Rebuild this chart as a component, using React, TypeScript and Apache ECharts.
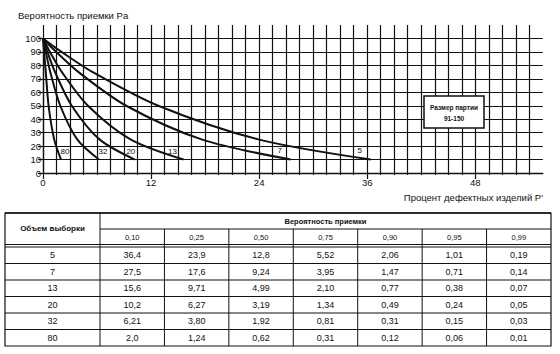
import React, { useEffect, useRef } from 'react';
import * as echarts from 'echarts';

const sampleSizes = ['5', '7', '13', '20', '32', '80'];
const acceptanceLevels = ['0,10', '0,25', '0,50', '0,75', '0,90', '0,95', '0,99'];
const row5 = ['36,4', '23,9', '12,8', '5,52', '2,06', '1,01', '0,19'];
const row7 = ['27,5', '17,6', '9,24', '3,95', '1,47', '0,71', '0,14'];
const row13 = ['15,6', '9,71', '4,99', '2,10', '0,77', '0,38', '0,07'];
const row20 = ['10,2', '6,27', '3,19', '1,34', '0,49', '0,24', '0,05'];
const row32 = ['6,21', '3,80', '1,92', '0,81', '0,31', '0,15', '0,03'];
const row80 = ['2,0', '1,24', '0,62', '0,31', '0,12', '0,06', '0,01'];
const defectRows = [row5, row7, row13, row20, row32, row80];
const zeroDefectPoint = [0, 100];
const xTickValues = [0, 12, 24, 36, 48];

const yTitle = 'Вероятность приемки Pa';
const xTitle = "Процент дефектных изделий P'";
const lotLabel = ['Размер партии', '91-150'];
const sampleHeader = 'Объем выборки';
const probHeader = 'Вероятность приемки';

// ---- style ----
const FONT = '"Liberation Sans", Arial, sans-serif';
const INK = '#111';
const labelOffsets: Record<string, number[]> = {
  '5': [-11, -9],
  '7': [-11, -9],
  '13': [-11, -8],
  '20': [-4, -8],
  '32': [4, -8],
  '80': [4, -8],
};

const num = (s: string) => parseFloat(s.replace(',', '.'));

function buildTable(): any[] {
  const x0 = 5, x1 = 551, y0 = 213, col1 = 100, hdrMid = 229, dbl1 = 244.5, dbl2 = 247, rowH = 16.5;
  const colW = (x1 - col1) / acceptanceLevels.length;
  const yEnd = dbl2 + rowH * defectRows.length;
  const line = (ax: number, ay: number, bx: number, by: number, w = 1) => ({
    type: 'line',
    shape: { x1: ax, y1: ay, x2: bx, y2: by },
    style: { stroke: INK, lineWidth: w },
  });
  const text = (t: string, x: number, y: number, size: number, weight: any = 'normal') => ({
    type: 'text',
    x, y,
    style: { text: t, fill: INK, font: `${weight} ${size}px ${FONT}`, align: 'center', verticalAlign: 'middle' },
  });
  const els: any[] = [];
  els.push({ type: 'rect', shape: { x: x0, y: y0, width: x1 - x0, height: yEnd - y0 }, style: { fill: 'none', stroke: INK, lineWidth: 1.2 } });
  els.push(line(x0, y0, x1, y0, 1.6));
  els.push(line(col1, y0, col1, yEnd));
  els.push(line(col1, hdrMid, x1, hdrMid));
  els.push(line(x0, dbl1, x1, dbl1));
  els.push(line(x0, dbl2, x1, dbl2));
  for (let k = 1; k < acceptanceLevels.length; k++) {
    const cx = col1 + k * colW;
    els.push(line(cx, hdrMid, cx, yEnd));
  }
  for (let r = 1; r < defectRows.length; r++) {
    const ry = dbl2 + r * rowH;
    els.push(line(x0, ry, x1, ry));
  }
  els.push(text(sampleHeader, (x0 + col1) / 2, (y0 + dbl1) / 2, 8, 'bold'));
  els.push(text(probHeader, (col1 + x1) / 2, (y0 + hdrMid) / 2 + 0.5, 7.5, 'bold'));
  acceptanceLevels.forEach((lvl, k) => {
    els.push(text(lvl, col1 + (k + 0.5) * colW, (hdrMid + dbl1) / 2 + 1, 7.5));
  });
  defectRows.forEach((row, r) => {
    const cy = dbl2 + (r + 0.5) * rowH;
    els.push(text(sampleSizes[r], (x0 + col1) / 2, cy, 9));
    row.forEach((v, k) => {
      els.push(text(v, col1 + (k + 0.5) * colW, cy, 9));
    });
  });
  return els;
}

export default function App() {
  const ref = useRef<HTMLDivElement>(null);
  useEffect(() => {
    if (!ref.current) return;
    const chart = echarts.init(ref.current, undefined, { renderer: 'svg' });

    const pxPerX = 9.006;
    const pxPerY = 1.345;
    const left = 43;
    const bottomY = 173;

    const series = sampleSizes.map((n, i) => {
      const row = defectRows[i];
      const pts = row.map((v, k) => [num(v), num(acceptanceLevels[k]) * 100]).reverse();
      const data = [zeroDefectPoint, ...pts];
      const end = pts[pts.length - 1];
      return {
        type: 'line',
        name: n,
        xAxisIndex: 0,
        yAxisIndex: 0,
        data,
        smooth: 0.3,
        showSymbol: false,
        symbol: 'none',
        lineStyle: { color: INK, width: 2 },
        z: 5,
        markPoint: {
          symbol: 'circle',
          symbolSize: 1,
          itemStyle: { color: 'rgba(0,0,0,0)' },
          data: [{ coord: end, value: n }],
          label: {
            show: true,
            formatter: n,
            offset: labelOffsets[n],
            color: INK,
            fontSize: 8,
            fontFamily: FONT,
          },
        },
      };
    });

    const lotX = 424, lotY = 96, lotW = 60, lotH = 32;

    chart.setOption({
      animation: false,
      textStyle: { fontFamily: FONT },
      grid: [
        { left, top: bottomY - 100 * pxPerY, width: 55.5 * pxPerX, height: 100 * pxPerY },
        { left, top: bottomY - 110 * pxPerY, width: 54 * pxPerX, height: 110 * pxPerY },
      ],
      xAxis: [
        {
          type: 'value', gridIndex: 0, min: 0, max: 55.5, interval: 12,
          axisLine: { show: true, lineStyle: { color: INK, width: 1.3 } },
          axisTick: { show: true, length: 6, customValues: xTickValues, lineStyle: { color: INK, width: 1.2 } },
          axisLabel: { show: true, customValues: xTickValues, color: INK, fontSize: 9.5, margin: 4, fontFamily: FONT },
          splitLine: { show: false },
          z: 3,
        },
        {
          type: 'value', gridIndex: 1, min: 0, max: 54, interval: 1.5,
          axisLine: { show: false },
          axisTick: { show: true, length: 2, lineStyle: { color: INK, width: 1 } },
          axisLabel: { show: false },
          splitLine: { show: true, lineStyle: { color: INK, width: 1.2 } },
        },
      ],
      yAxis: [
        {
          type: 'value', gridIndex: 0, min: 0, max: 100, interval: 10,
          axisLine: { show: true, lineStyle: { color: INK, width: 1.3 } },
          axisTick: { show: true, length: 5, lineStyle: { color: INK, width: 1.2 } },
          axisLabel: { color: INK, fontSize: 9.5, margin: 2, fontFamily: FONT },
          splitLine: { show: true, lineStyle: { color: INK, width: 1.2 } },
          z: 3,
        },
        {
          type: 'value', gridIndex: 1, min: 0, max: 110,
          axisLine: { show: false }, axisTick: { show: false },
          axisLabel: { show: false }, splitLine: { show: false },
        },
      ],
      series,
      graphic: [
        {
          type: 'text', x: 18, y: 15,
          style: { text: yTitle, fill: INK, font: `9.5px ${FONT}`, verticalAlign: 'middle' },
        },
        {
          type: 'text', x: 543, y: 197,
          style: { text: xTitle, fill: INK, font: `9.5px ${FONT}`, align: 'right', verticalAlign: 'middle' },
        },
        { type: 'rect', z: 100, shape: { x: lotX, y: lotY, width: lotW, height: lotH }, style: { fill: '#fff', stroke: INK, lineWidth: 1.5 } },
        { type: 'text', z: 101, x: lotX + lotW / 2, y: lotY + 11, style: { text: lotLabel[0], fill: INK, font: `bold 6.5px ${FONT}`, align: 'center', verticalAlign: 'middle' } },
        { type: 'text', z: 101, x: lotX + lotW / 2, y: lotY + 22, style: { text: lotLabel[1], fill: INK, font: `bold 6.5px ${FONT}`, align: 'center', verticalAlign: 'middle' } },
        { type: 'group', children: buildTable() },
      ],
    });
    return () => chart.dispose();
  }, []);
  return (
    <div
      ref={ref}
      style={{ position: 'absolute', left: 0, top: 0, width: 560, height: 354, background: '#fff' }}
    />
  );
}
